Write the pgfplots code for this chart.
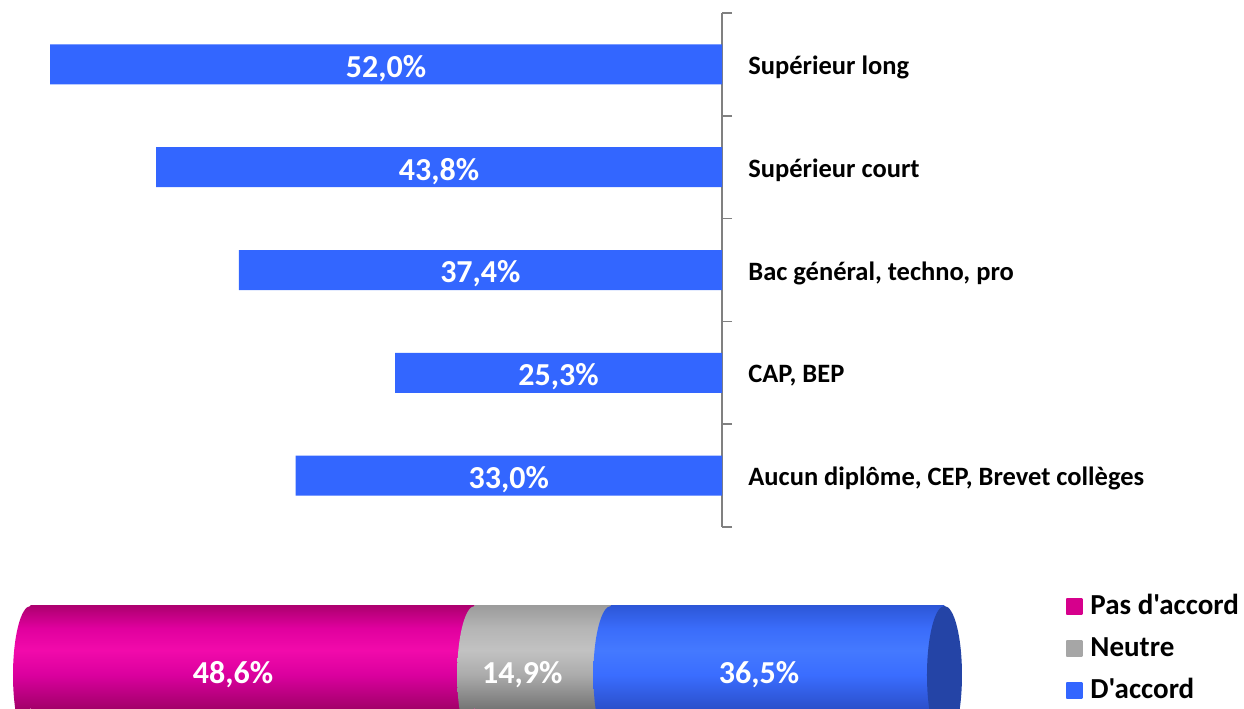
\documentclass[border=0pt]{standalone}
\usepackage{pgfplots}
\pgfplotsset{compat=1.18}
\usepackage{fontspec}
\setmainfont{Carlito}[Ligatures=TeXOff]
\definecolor{barblue}{HTML}{3366FF}
\definecolor{legpink}{HTML}{D6008C}
\definecolor{leggray}{HTML}{A6A6A6}
\definecolor{capblue}{HTML}{2444A6}
\definecolor{pkA}{HTML}{800050}
\definecolor{pkB}{HTML}{A3006A}
\definecolor{pkC}{HTML}{DA009E}
\definecolor{pkD}{HTML}{F20AAB}
\definecolor{pkE}{HTML}{E0009E}
\definecolor{pkF}{HTML}{AE0070}
\definecolor{gA}{HTML}{5A5A5A}
\definecolor{gB}{HTML}{767676}
\definecolor{gC}{HTML}{ABABAB}
\definecolor{gD}{HTML}{C2C2C2}
\definecolor{gE}{HTML}{B5B5B5}
\definecolor{gF}{HTML}{9C9C9C}
\definecolor{bA}{HTML}{1E3C9C}
\definecolor{bB}{HTML}{2B50CC}
\definecolor{bC}{HTML}{3A6DFF}
\definecolor{bD}{HTML}{4479FF}
\definecolor{bE}{HTML}{3A6CFA}
\definecolor{bF}{HTML}{2D57D8}
\pgfdeclareverticalshading{pinkcyl}{100bp}{color(0bp)=(pkA); color(25bp)=(pkA); color(38bp)=(pkB); color(50bp)=(pkC); color(59bp)=(pkD); color(67bp)=(pkE); color(75bp)=(pkF); color(100bp)=(pkF)}
\pgfdeclareverticalshading{graycyl}{100bp}{color(0bp)=(gA); color(25bp)=(gA); color(38bp)=(gB); color(50bp)=(gC); color(59bp)=(gD); color(67bp)=(gE); color(75bp)=(gF); color(100bp)=(gF)}
\pgfdeclareverticalshading{bluecyl}{100bp}{color(0bp)=(bA); color(25bp)=(bA); color(38bp)=(bB); color(50bp)=(bC); color(59bp)=(bD); color(67bp)=(bE); color(75bp)=(bF); color(100bp)=(bF)}
\begin{document}
\begin{tikzpicture}
\useasboundingbox (0,0) rectangle (622pt,354pt);
\clip (0,0) rectangle (622pt,354pt);
% ---------- top bar chart ----------
\begin{axis}[
  at={(0pt,90.5pt)}, anchor=south west,
  scale only axis, width=361pt, height=257pt,
  xmin=-55.88, xmax=0, ymin=-0.5, ymax=4.5,
  axis x line=none,
  axis y line=right,
  axis line style={draw=gray, line width=0.8pt, -},
  ytick={0,...,4},
  yticklabels={{Aucun diplôme, CEP, Brevet collèges},{CAP, BEP},{Bac général, techno, pro},{Supérieur court},{Supérieur long}},
  major tick length=0pt,
  tick align=outside,
  extra y ticks={-0.5,0.5,...,4.5},
  extra y tick labels={},
  extra y tick style={major tick length=5pt, tick align=outside, tick style={draw=gray, line width=0.8pt}},
  yticklabel style={font=\bfseries\fontsize{13.25}{15}\selectfont, anchor=west, inner sep=0pt, xshift=13pt, yshift=-1.5pt, text=black},
  xbar, bar width=20pt,
  clip=false,
]
\addplot[xbar, fill=barblue, draw=none] coordinates {(-33.0,0) (-25.3,1) (-37.4,2) (-43.8,3) (-52.0,4)};
\begin{scope}[every node/.style={text=white, font=\bfseries\fontsize{16}{18}\selectfont, yshift=-2pt}]
\node at (axis cs:-26.0,4) {52,0\%};
\node at (axis cs:-21.9,3) {43,8\%};
\node at (axis cs:-18.7,2) {37,4\%};
\node at (axis cs:-12.65,1) {25,3\%};
\node at (axis cs:-16.5,0) {33,0\%};
\end{scope}
\end{axis}
% ---------- bottom cylinder (segments: 48.6 / 14.9 / 36.5) ----------
\begin{axis}[
  at={(0pt,-18pt)}, anchor=south west,
  scale only axis, width=622pt, height=69pt,
  xmin=-3.337, xmax=132.77, ymin=-1, ymax=1,
  hide axis, clip=false,
  legend style={at={(axis cs:113.3,1.20)}, anchor=north west, draw=none, fill=none,
    inner sep=0pt, row sep=7pt,
    font=\bfseries\fontsize{14.5}{16}\selectfont,
    nodes={inner sep=0pt, text height=11pt, text depth=3pt},
    /tikz/every odd column/.append style={column sep=4pt}},
  legend cell align=left,
]
\addplot[shade, shading=pinkcyl, draw=none,
  legend image code/.code={\path[top color=legpink, bottom color=legpink] (0pt,-4pt) rectangle (8pt,4pt);}]
  coordinates {(0,-1) (48.6,-1) (48.6,1) (0,1)} -- cycle;
\addlegendentry{Pas d'accord}
\addplot[shade, shading=graycyl, draw=none,
  legend image code/.code={\path[top color=leggray, bottom color=leggray] (0pt,-4pt) rectangle (8pt,4pt);}]
  coordinates {(48.6,-1) (63.5,-1) (63.5,1) (48.6,1)} -- cycle;
\addlegendentry{Neutre}
\addplot[shade, shading=bluecyl, draw=none,
  legend image code/.code={\path[top color=barblue, bottom color=barblue] (0pt,-4pt) rectangle (8pt,4pt);}]
  coordinates {(63.5,-1) (100,-1) (100,1) (63.5,1)} -- cycle;
\addlegendentry{D'accord}
\coordinate (e0) at (axis cs:0,0);
\coordinate (e1) at (axis cs:48.6,0);
\coordinate (e2) at (axis cs:63.5,0);
\coordinate (e3) at (axis cs:100,0);
\coordinate (l1) at (axis cs:22.15,0);
\coordinate (l2) at (axis cs:53.8,0);
\coordinate (l3) at (axis cs:79.7,0);
\end{axis}
\path[shade, shading=pinkcyl] (e0) ++(0pt,34.5pt) arc[start angle=90, end angle=270, x radius=8.75pt, y radius=34.5pt] -- cycle;
\path[shade, shading=graycyl] (e1) ++(0pt,34.5pt) arc[start angle=90, end angle=270, x radius=8.75pt, y radius=34.5pt] -- cycle;
\path[shade, shading=bluecyl] (e2) ++(0pt,34.5pt) arc[start angle=90, end angle=270, x radius=8.75pt, y radius=34.5pt] -- cycle;
\fill[capblue] (e3) ellipse [x radius=8.75pt, y radius=34.5pt];
\begin{scope}[every node/.style={text=white, font=\bfseries\fontsize{16}{18}\selectfont}]
\node at (l1) {48,6\%};
\node at (l2) {14,9\%};
\node at (l3) {36,5\%};
\end{scope}
\end{tikzpicture}
\end{document}
